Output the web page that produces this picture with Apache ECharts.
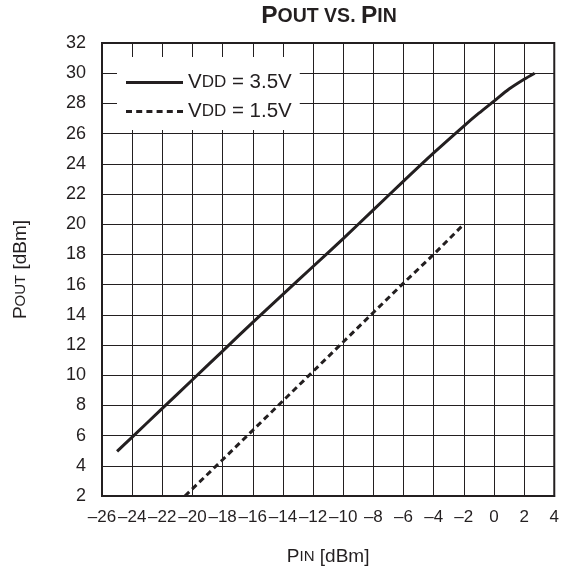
<!DOCTYPE html>
<html>
<head>
<meta charset="utf-8">
<script src="https://cdn.jsdelivr.net/npm/echarts@6/dist/echarts.min.js"></script>
<style>
html,body{margin:0;padding:0;background:#fff;}
#chart{width:562px;height:571px;}
</style>
</head>
<body>
<div id="chart"></div>
<script>
// ---- data ----
const pinSolid  = [-25, -24, -22, -20, -18, -16, -14, -12, -10, -8, -6, -4, -2, -1, 0, 1, 2, 2.7];
const poutSolid = [4.95, 5.9, 7.8, 9.7, 11.6, 13.5, 15.35, 17.2, 19.05, 20.95, 22.85, 24.72, 26.5, 27.35, 28.15, 28.95, 29.6, 30.0];
const pinDashed  = [-20.5, -18, -16, -14, -12, -10, -8, -6, -4, -2];
const poutDashed = [2.0, 4.4, 6.35, 8.3, 10.25, 12.2, 14.15, 16.1, 18.0, 20.0];
const seriesNames = ['VDD = 3.5V', 'VDD = 1.5V'];
const xAxisRange = [-26, 4];
const yAxisRange = [2, 32];
const tickStep = 2;

const FONT = '"Liberation Sans", Arial, Helvetica, sans-serif';
const INK = '#231f20';

// legend sample icons (solid bar, and six dashes)
const ICON_SOLID = 'path://M0,0H57V3H0Z';
const ICON_DASHED = 'path://M0,0H6V3H0Z M10.2,0H16.2V3H10.2Z M20.4,0H26.4V3H20.4Z M30.6,0H36.6V3H30.6Z M40.8,0H46.8V3H40.8Z M51,0H57V3H51Z';

function pairs(xs, ys) { return xs.map((x, i) => [x, ys[i]]); }

const chart = echarts.init(document.getElementById('chart'), null, {renderer: 'canvas'});
chart.setOption({
  backgroundColor: '#fff',
  animation: false,
  title: {
    text: '{a|P}{b|OUT VS. }{a|P}{b|IN}',
    left: 329,
    top: 4,
    padding: 0,
    textAlign: 'center',
    textStyle: {
      fontFamily: FONT,
      rich: {
        a: {fontSize: 24.5, fontWeight: 'bold', color: INK, fontFamily: FONT},
        b: {fontSize: 19.5, fontWeight: 'bold', color: INK, fontFamily: FONT}
      }
    }
  },
  grid: {
    left: 102, right: 6, top: 43, bottom: 73,
    show: true, borderColor: INK, borderWidth: 2, backgroundColor: 'transparent'
  },
  legend: {
    orient: 'vertical',
    left: 117,
    top: 57,
    backgroundColor: '#fff',
    padding: [15, 8, 8, 9],
    itemWidth: 57,
    itemHeight: 3,
    itemGap: 8,
    data: [
      {name: seriesNames[0], icon: ICON_SOLID},
      {name: seriesNames[1], icon: ICON_DASHED}
    ],
    itemStyle: {color: INK, borderWidth: 0},
    formatter: function (name) {
      const rest = name.slice(3);
      return '{a|V}{b|DD}{a|' + rest + '}';
    },
    textStyle: {
      fontFamily: FONT,
      rich: {
        a: {fontSize: 20.5, color: INK, fontFamily: FONT, lineHeight: 20},
        b: {fontSize: 17, color: INK, fontFamily: FONT, lineHeight: 20}
      }
    }
  },
  xAxis: {
    type: 'value',
    min: xAxisRange[0], max: xAxisRange[1], interval: tickStep,
    name: '{a|P}{b|IN}{a| [dBm]}',
    nameLocation: 'middle',
    nameGap: 51,
    nameTextStyle: {
      fontFamily: FONT,
      rich: {
        a: {fontSize: 19, color: INK, fontFamily: FONT},
        b: {fontSize: 15, color: INK, fontFamily: FONT}
      }
    },
    axisLine: {show: true, onZero: false, lineStyle: {color: INK, width: 2}},
    axisTick: {show: false},
    axisLabel: {
      margin: 13, fontSize: 17, color: INK, fontFamily: FONT,
      formatter: v => String(v).replace('-', '\u2013')
    },
    splitLine: {show: true, lineStyle: {color: INK, width: 1}}
  },
  yAxis: {
    type: 'value',
    min: yAxisRange[0], max: yAxisRange[1], interval: tickStep,
    name: '{a|P}{b|OUT}{a| [dBm]}',
    nameLocation: 'middle',
    nameRotate: 90,
    nameGap: 72,
    nameTextStyle: {
      fontFamily: FONT,
      rich: {
        a: {fontSize: 19, color: INK, fontFamily: FONT},
        b: {fontSize: 15, color: INK, fontFamily: FONT}
      }
    },
    axisLine: {show: true, onZero: false, lineStyle: {color: INK, width: 2}},
    axisTick: {show: false},
    axisLabel: {margin: 16, fontSize: 18, color: INK, fontFamily: FONT},
    splitLine: {show: true, lineStyle: {color: INK, width: 1}}
  },
  series: [
    {
      name: seriesNames[0], type: 'line', data: pairs(pinSolid, poutSolid),
      showSymbol: false, symbol: 'none', smooth: 0.2, z: 3,
      lineStyle: {color: INK, width: 3}, itemStyle: {color: INK}
    },
    {
      name: seriesNames[1], type: 'line', data: pairs(pinDashed, poutDashed),
      showSymbol: false, symbol: 'none', z: 3,
      lineStyle: {color: INK, width: 3, type: [6, 4]}, itemStyle: {color: INK}
    }
  ]
});
</script>
</body>
</html>
